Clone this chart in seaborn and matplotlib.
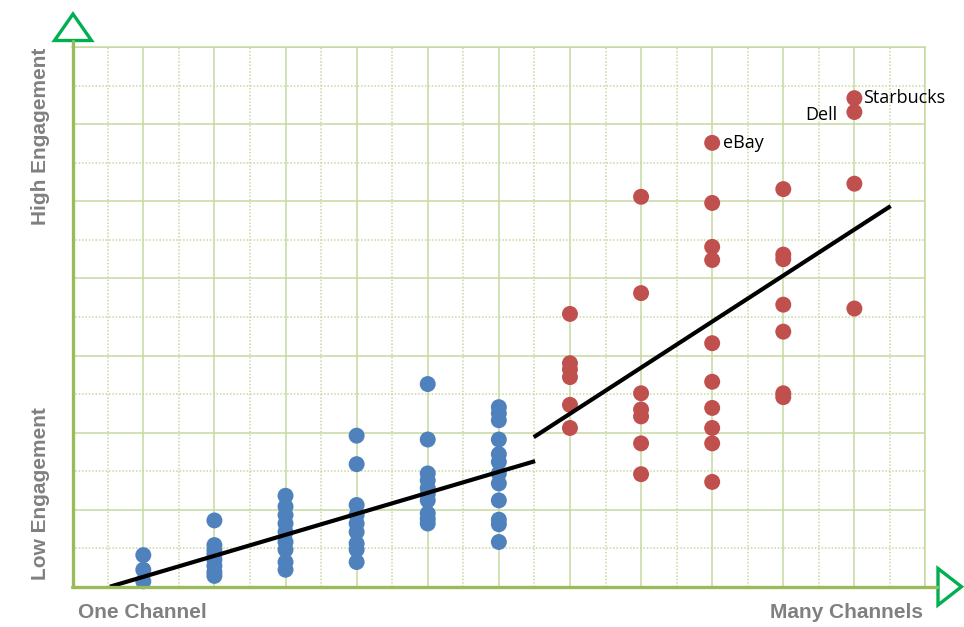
import matplotlib
matplotlib.use("Agg")
import matplotlib.pyplot as plt
from matplotlib.lines import Line2D
from matplotlib.patches import Polygon
from matplotlib.ticker import MultipleLocator
import numpy as np
import pandas as pd
import seaborn as sns

# Number of channels (x) and engagement scores (y) for each company
channels = [1, 2, 3, 4, 5, 6, 7, 8, 9, 10, 11]
engagement = [
    [0.41, 0.22, 0.07],
    [0.86, 0.54, 0.48, 0.42, 0.35, 0.27, 0.19, 0.14],
    [1.18, 1.04, 0.93, 0.82, 0.71, 0.58, 0.48, 0.32, 0.22],
    [1.96, 1.59, 1.06, 0.93, 0.82, 0.71, 0.56, 0.48, 0.32],
    [2.63, 1.91, 1.47, 1.38, 1.28, 1.20, 1.12, 0.95, 0.88, 0.82],
    [2.33, 2.25, 2.16, 1.91, 1.72, 1.62, 1.47, 1.34, 1.12, 0.87, 0.81, 0.58],
    [3.54, 2.90, 2.82, 2.72, 2.36, 2.06],
    [5.06, 3.81, 2.51, 2.30, 2.21, 1.86, 1.46],
    [5.76, 4.98, 4.41, 4.24, 3.16, 2.66, 2.32, 2.06, 1.86, 1.36],
    [5.16, 4.31, 4.25, 3.66, 3.31, 2.51, 2.46],
    [6.34, 6.16, 5.23, 3.61],
]
many_channel_threshold = 7

# Trend lines for the two groups
trend_few_x = [0.53, 6.51]
trend_few_y = [0.0, 1.63]
trend_many_x = [6.49, 11.51]
trend_many_y = [1.94, 4.94]

# Named companies
label_names = ["eBay", "Dell", "Starbucks"]
label_x = [9, 11, 11]
label_y = [5.76, 6.16, 6.34]

rows = []
for c, ys in zip(channels, engagement):
    for y in ys:
        rows.append({"channels": c, "engagement": y,
                     "group": "many" if c >= many_channel_threshold else "few"})
df = pd.DataFrame(rows)

trend_df = pd.DataFrame({
    "channels": trend_few_x + trend_many_x,
    "engagement": trend_few_y + trend_many_y,
    "seg": ["few", "few", "many", "many"],
})

sns.set_style("white")

W, H = 964, 627
fig = plt.figure(figsize=(W / 100, H / 100), dpi=100)
ax = fig.add_axes([72.2 / W, 1 - 586.7 / H, (925.5 - 72.2) / W, (586.7 - 47.3) / H])

grid_color = "#C6D9A0"
axis_color = "#9BBB59"
arrow_color = "#00B050"

ax.set_xlim(0, 12)
ax.set_ylim(0, 7)
ax.xaxis.set_major_locator(MultipleLocator(1))
ax.xaxis.set_minor_locator(MultipleLocator(0.5))
ax.yaxis.set_major_locator(MultipleLocator(1))
ax.yaxis.set_minor_locator(MultipleLocator(0.5))
ax.grid(which="major", color=grid_color, linewidth=1.1, linestyle="-")
ax.grid(which="minor", color=grid_color, linewidth=1.1, linestyle=(0, (1, 1.2)))
ax.set_axisbelow(True)
ax.tick_params(which="both", length=0, labelbottom=False, labelleft=False)
for side in ["top", "right"]:
    ax.spines[side].set_color(grid_color)
    ax.spines[side].set_linewidth(1.1)
for side in ["left", "bottom"]:
    ax.spines[side].set_visible(False)

sns.scatterplot(data=df, x="channels", y="engagement", hue="group",
                palette={"few": "#4F81BD", "many": "#C0504D"},
                s=132, linewidth=0, alpha=1, legend=False, ax=ax, zorder=3,
                clip_on=False)
sns.lineplot(data=trend_df, x="channels", y="engagement", units="seg",
             estimator=None, color="black", linewidth=3.0, ax=ax,
             legend=False, zorder=4, solid_capstyle="butt")
ax.set_xlabel("")
ax.set_ylabel("")

# Company labels
name_kw = dict(textcoords="offset points", va="center", fontsize=13,
               family="Open Sans", color="black")
ax.annotate(label_names[0], (label_x[0], label_y[0]), xytext=(7.5, 0),
            ha="left", **name_kw)
ax.annotate(label_names[1], (label_x[1], label_y[1]), xytext=(-12, -2),
            ha="right", **name_kw)
ax.annotate(label_names[2], (label_x[2], label_y[2]), xytext=(6.3, 0),
            ha="left", **name_kw)


def px(x, y):
    return (x / W, 1 - y / H)


# Axis lines extending to the arrow heads
fig.add_artist(Line2D(*zip(px(73, 587), px(73, 41)), color=axis_color,
                      linewidth=2.4, transform=fig.transFigure, zorder=5))
fig.add_artist(Line2D(*zip(px(72, 586.7), px(937, 586.7)), color=axis_color,
                      linewidth=2.4, transform=fig.transFigure, zorder=5))

# Hollow arrow heads
up = Polygon([px(73, 14), px(54.5, 40.5), px(91.5, 40.5)], closed=True,
             fill=False, edgecolor=arrow_color, linewidth=2.4,
             transform=fig.transFigure, joinstyle="miter")
right = Polygon([px(938, 568.5), px(961.5, 586.7), px(938, 605)], closed=True,
                fill=False, edgecolor=arrow_color, linewidth=2.4,
                transform=fig.transFigure, joinstyle="miter")
fig.add_artist(up)
fig.add_artist(right)

label_kw = dict(fontsize=15, fontweight="bold", color="#808080",
                family="Liberation Sans", transform=fig.transFigure)
fig.text(*px(40.7, 136), "High Engagement", rotation=90, ha="center", va="center", **label_kw)
fig.text(*px(40.7, 494), "Low Engagement", rotation=90, ha="center", va="center", **label_kw)
fig.text(*px(77.7, 613), "One Channel", ha="left", va="center", **label_kw)
fig.text(*px(923.3, 613), "Many Channels", ha="right", va="center", **label_kw)

fig.savefig("out.png", dpi=100)
